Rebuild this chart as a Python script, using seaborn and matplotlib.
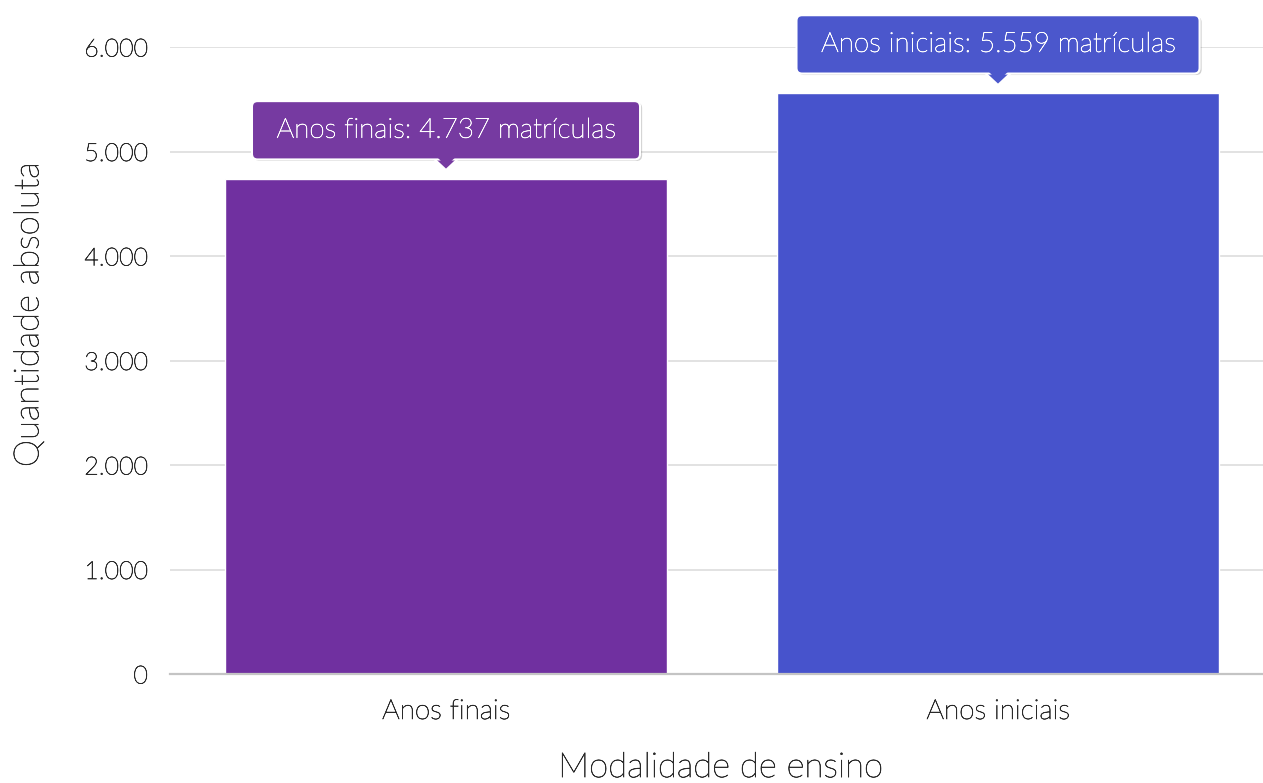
import matplotlib
matplotlib.use("Agg")
import matplotlib.pyplot as plt
import matplotlib.transforms as mtransforms
import matplotlib.patheffects as pe
from matplotlib.markers import MarkerStyle
from matplotlib.ticker import FuncFormatter
import seaborn as sns
import pandas as pd

# data
categories = ["Anos finais", "Anos iniciais"]
matriculas = [4737, 5559]
bar_colors = ["#7030A0", "#4753CC"]
tip_colors = ["#763AA1", "#4B57CC"]


def fmt_br(v):
    return f"{int(v):,}".replace(",", ".")


def px(fig, ax, dy):
    # shift a data point up by dy pixels
    return mtransforms.offset_copy(ax.transData, fig=fig, x=0, y=dy * 72 / fig.dpi, units="points")


def main():
    sns.set_style("white")
    plt.rcParams["font.family"] = ["Lato", "DejaVu Sans"]
    plt.rcParams["font.weight"] = "light"
    plt.rcParams["axes.labelweight"] = "light"

    dark = "#2a2a2a"
    thick = lambda c, w=0.45: [pe.withStroke(linewidth=w, foreground=c)]

    df = pd.DataFrame({"modalidade": categories, "qtd": matriculas})

    fig = plt.figure(figsize=(12.63, 7.83), dpi=100)
    ax = fig.add_axes([170 / 1263, 1 - 674 / 783, 1 - 170 / 1263, (674 - 47) / 783])

    sns.barplot(data=df, x="modalidade", y="qtd", hue="modalidade",
                palette=dict(zip(categories, bar_colors)), legend=False,
                width=0.8, saturation=1, ax=ax, zorder=2)

    ax.set_ylim(0, 6000)
    ax.set_xlim(-0.5, 1.48)
    ax.set_yticks(range(0, 6001, 1000))
    ax.yaxis.set_major_formatter(FuncFormatter(lambda v, p: fmt_br(v)))
    ax.grid(axis="y", color="#dddddd", linewidth=1.2, zorder=0)
    ax.set_axisbelow(True)
    for s in ["left", "right", "top"]:
        ax.spines[s].set_visible(False)
    ax.spines["bottom"].set_color("#c4c4c4")
    ax.spines["bottom"].set_linewidth(1.6)
    ax.tick_params(axis="y", length=0, pad=16, labelsize=18, labelcolor=dark)
    ax.tick_params(axis="x", length=0, pad=18, labelsize=20, labelcolor=dark)
    for t in ax.get_xticklabels() + ax.get_yticklabels():
        t.set_path_effects(thick(dark))

    ax.set_xlabel("Modalidade de ensino", fontsize=25, color=dark, path_effects=thick(dark))
    ax.set_ylabel("Quantidade absoluta", fontsize=25, color=dark, path_effects=thick(dark))
    ax.xaxis.set_label_coords(0.504, -0.123)
    ax.yaxis.set_label_coords(-0.115, 0.573)

    tri = MarkerStyle("v", transform=mtransforms.Affine2D().scale(1, 0.5))

    # tooltips
    for i, (cat, val) in enumerate(zip(categories, matriculas)):
        label = f" {cat}: {fmt_br(val)} matrículas "
        box = "round,pad=0.6,rounding_size=0.2"
        # soft shadow
        ax.annotate(label, xy=(i, val), xytext=(1.5, 34.7 * 72 / 100), textcoords="offset points",
                    ha="center", va="bottom", fontsize=20, color="none",
                    bbox=dict(boxstyle=box, fc="#000000", ec="none", alpha=0.18),
                    annotation_clip=False, zorder=4)
        # pointer with white outline, below the box
        ax.plot([i], [val], marker=tri, markersize=21, color=tip_colors[i],
                markeredgecolor="white", markeredgewidth=1.5,
                transform=px(fig, ax, 15.5), clip_on=False, zorder=5)
        ax.annotate(label, xy=(i, val), xytext=(0, 36.2 * 72 / 100), textcoords="offset points",
                    ha="center", va="bottom", fontsize=20, color="white",
                    path_effects=thick("white", 0.4),
                    bbox=dict(boxstyle=box, fc=tip_colors[i], ec="white", lw=1.5),
                    annotation_clip=False, zorder=6)
        # fill over the box edge so the pointer merges with the box
        ax.plot([i], [val], marker=tri, markersize=18, color=tip_colors[i],
                markeredgewidth=0, transform=px(fig, ax, 18.5), clip_on=False, zorder=7)

    fig.savefig("out.png", dpi=100)


if __name__ == "__main__":
    main()
